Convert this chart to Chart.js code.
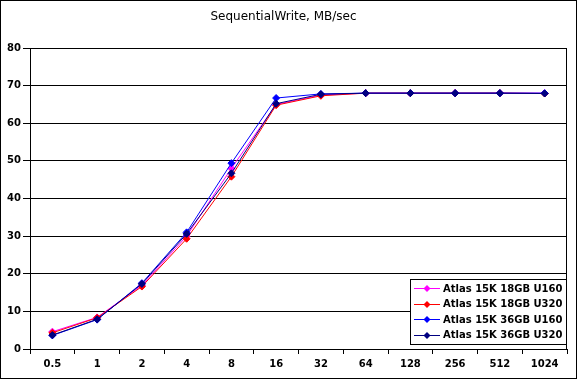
<!DOCTYPE html>
<html><head><meta charset="utf-8">
<script src="https://cdn.jsdelivr.net/npm/chart.js@4/dist/chart.umd.min.js"></script>
<style>html,body{margin:0;padding:0;background:#fff;}canvas{display:block;}</style>
</head><body>
<canvas id="c" width="577" height="379"></canvas>
<script>
const categories = ['0.5','1','2','4','8','16','32','64','128','256','512','1024'];
const seriesNames = ['Atlas 15K 18GB U160','Atlas 15K 18GB U320','Atlas 15K 36GB U160','Atlas 15K 36GB U320'];
const s18U160 = [4.6, 8.4, 16.9, 30.0, 48.0, 65.0, 67.5, 68.0, 68.0, 68.0, 68.0, 68.0];
const s18U320 = [4.3, 8.3, 16.6, 29.3, 45.8, 64.8, 67.3, 68.0, 68.0, 68.0, 68.0, 67.9];
const s36U160 = [3.6, 7.8, 17.5, 31.0, 49.4, 66.7, 67.8, 68.0, 68.0, 68.0, 68.0, 68.0];
const s36U320 = [3.7, 7.9, 17.3, 30.6, 46.7, 65.2, 67.7, 68.0, 68.0, 68.0, 68.0, 67.9];
const yTicks = [0,10,20,30,40,50,60,70,80];

const colors = ['#FF00FF','#FF0000','#0000FF','#000080'];
const seriesData = [s18U160, s18U320, s36U160, s36U320];
const FONT = '"DejaVu Sans", Verdana, sans-serif';

const datasets = seriesData.map((d,i)=>({
  label: seriesNames[i], data: d,
  borderColor: colors[i], backgroundColor: colors[i],
  borderWidth: 1, pointStyle: 'rectRot', pointRadius: 3.5, pointBorderWidth: 1,
  pointBackgroundColor: colors[i], pointBorderColor: colors[i],
  tension: 0, order: 3 - i
}));

const framePlugin = {
  id: 'frame',
  beforeDraw(chart){
    const ctx = chart.ctx;
    ctx.save(); ctx.fillStyle='#fff'; ctx.fillRect(0,0,chart.width,chart.height); ctx.restore();
  },
  afterDraw(chart){
    const ctx = chart.ctx, a = chart.chartArea;
    ctx.save();
    ctx.strokeStyle='#000'; ctx.lineWidth=1;
    ctx.strokeRect(0.5,0.5,chart.width-1,chart.height-1);
    ctx.beginPath(); ctx.moveTo(Math.round(a.right)-0.5, a.top); ctx.lineTo(Math.round(a.right)-0.5, a.bottom); ctx.stroke();
    // legend
    const lx=410.5, ly=279.5, lw=156, lh=65;
    ctx.fillStyle='#fff'; ctx.fillRect(lx,ly,lw,lh);
    ctx.strokeRect(lx,ly,lw,lh);
    ctx.font = 'bold 10px ' + FONT;
    ctx.textBaseline='middle'; ctx.textAlign='left';
    seriesNames.forEach((n,i)=>{
      const y = 288 + i*15.5;
      ctx.strokeStyle=colors[i]; ctx.fillStyle=colors[i];
      ctx.beginPath(); ctx.moveTo(414,Math.round(y)+0.5); ctx.lineTo(440,Math.round(y)+0.5); ctx.stroke();
      const cx=427, cy=Math.round(y)+0.5, r=3.5;
      ctx.beginPath(); ctx.moveTo(cx,cy-r); ctx.lineTo(cx+r,cy); ctx.lineTo(cx,cy+r); ctx.lineTo(cx-r,cy); ctx.closePath(); ctx.fill();
      ctx.fillStyle='#000';
      ctx.fillText(n, 443, y+1);
    });
    ctx.restore();
  }
};

new Chart(document.getElementById('c'), {
  type: 'line',
  data: { labels: categories, datasets },
  plugins: [framePlugin],
  options: {
    responsive: false, animation: false,
    layout: { padding: { left: 0, right: 10, top: 0, bottom: 0 } },
    plugins: {
      legend: { display: false }, tooltip: { enabled: false },
      title: { display: true, text: 'SequentialWrite, MB/sec', color: '#000',
        font: { family: FONT, size: 12, weight: 'normal' }, padding: { top: 10, bottom: 23.6 } }
    },
    scales: {
      x: {
        type: 'category', offset: true,
        grid: { offset: true, drawOnChartArea: false, drawTicks: true, tickLength: 5, color: '#000' },
        border: { color: '#000', width: 1 },
        ticks: { color: '#000', font: { family: FONT, size: 10, weight: 'bold' }, padding: 4, maxRotation: 0, autoSkip: false },
        afterFit(s){ s.height = 30; }
      },
      y: {
        min: 0, max: 80,
        afterBuildTicks(s){ s.ticks = yTicks.map(v=>({value:v})); },
        grid: { color: '#000', tickLength: 7, drawTicks: true },
        border: { color: '#000', width: 1 },
        ticks: { color: '#000', font: { family: FONT, size: 10, weight: 'bold' }, padding: 2 },
        afterFit(s){ s.width = 30; }
      }
    }
  }
});
</script>
</body></html>
